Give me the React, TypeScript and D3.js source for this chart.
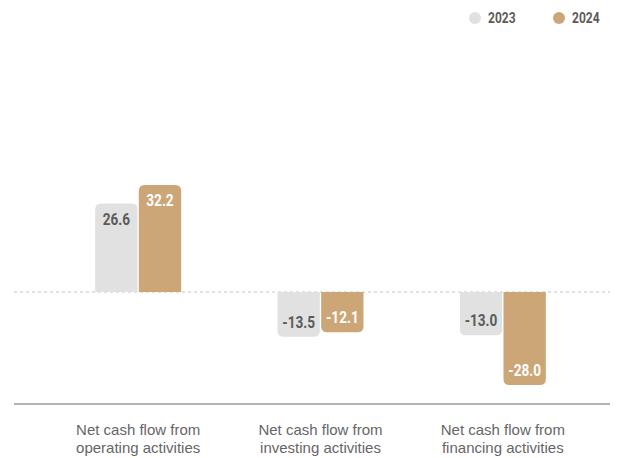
import React from 'react';
import * as d3 from 'd3';

const categories = ['operating', 'investing', 'financing'];
const categoryLabels = [
  ['Net cash flow from', 'operating activities'],
  ['Net cash flow from', 'investing activities'],
  ['Net cash flow from', 'financing activities'],
];
const years = ['2023', '2024'];
const values2023 = [26.6, -13.5, -13.0];
const values2024 = [32.2, -12.1, -28.0];

const W = 620;
const H = 458;
const colors: Record<string, string> = { '2023': '#e0e1e0', '2024': '#cca677' };
const textColors: Record<string, string> = { '2023': '#5b5b5b', '2024': '#ffffff' };
const numFont = 'Roboto, "Liberation Sans", sans-serif';

// rounded only at the far end of the bar
function barPath(x: number, w: number, y0: number, y1: number, r: number) {
  if (y1 < y0) {
    return `M${x},${y0} V${y1 + r} Q${x},${y1} ${x + r},${y1} H${x + w - r} Q${x + w},${y1} ${x + w},${y1 + r} V${y0} Z`;
  }
  return `M${x},${y0} V${y1 - r} Q${x},${y1} ${x + r},${y1} H${x + w - r} Q${x + w},${y1} ${x + w},${y1 - r} V${y0} Z`;
}

// fake a condensed face: squeeze the text horizontally
const Num = ({ x, y, anchor, fill, size, children }: any) => (
  <text transform={`translate(${x},${y}) scale(0.8,1)`} textAnchor={anchor} fontFamily={numFont}
    fontWeight={700} fontSize={size} fill={fill}>{children}</text>
);

const App: React.FC = () => {
  const x = d3.scaleBand<string>().domain(categories).range([47, 594]);
  const xi = d3.scaleBand<string>().domain(years).range([-43, 43]).paddingInner(0.03);
  const y = d3.scaleLinear().domain([0, 32.2]).range([292, 185]);
  const series: Record<string, number[]> = { '2023': values2023, '2024': values2024 };

  return (
    <div style={{ position: 'absolute', left: 0, top: 0 }}>
      <svg width={W} height={H} style={{ display: 'block' }}>
        <line x1={14} x2={610} y1={y(0)} y2={y(0)} stroke="#c4c4c4" strokeWidth={1} strokeDasharray="3 3" />
        {categories.map((c, i) => {
          const cx = (x(c) || 0) + x.bandwidth() / 2;
          return (
            <g key={c}>
              {years.map(yr => {
                const v = series[yr][i];
                const bx = cx + (xi(yr) || 0);
                const bw = xi.bandwidth();
                const y0 = y(0);
                const y1 = y(v);
                const ty = v >= 0 ? y1 + 21 : y1 - 9;
                return (
                  <g key={yr}>
                    <path d={barPath(bx, bw, y0, y1, 6)} fill={colors[yr]} />
                    <Num x={bx + bw / 2} y={ty} anchor="middle" size={17} fill={textColors[yr]}>{v.toFixed(1)}</Num>
                  </g>
                );
              })}
              {categoryLabels[i].map((t, k) => (
                <text key={k} x={cx} y={435 + k * 18} textAnchor="middle" fontFamily='"Liberation Sans", Arial, sans-serif'
                  fontSize={15} fill="#666">{t}</text>
              ))}
            </g>
          );
        })}
        <line x1={14} x2={610} y1={404} y2={404} stroke="#6a6a6a" strokeWidth={1.2} />
        {years.map((yr, k) => (
          <g key={yr} transform={`translate(${475 + k * 84},18)`}>
            <circle r={6} fill={colors[yr]} />
            <Num x={13} y={5} anchor="start" size={15} fill="#5b5b5b">{yr}</Num>
          </g>
        ))}
      </svg>
    </div>
  );
};

export default App;
